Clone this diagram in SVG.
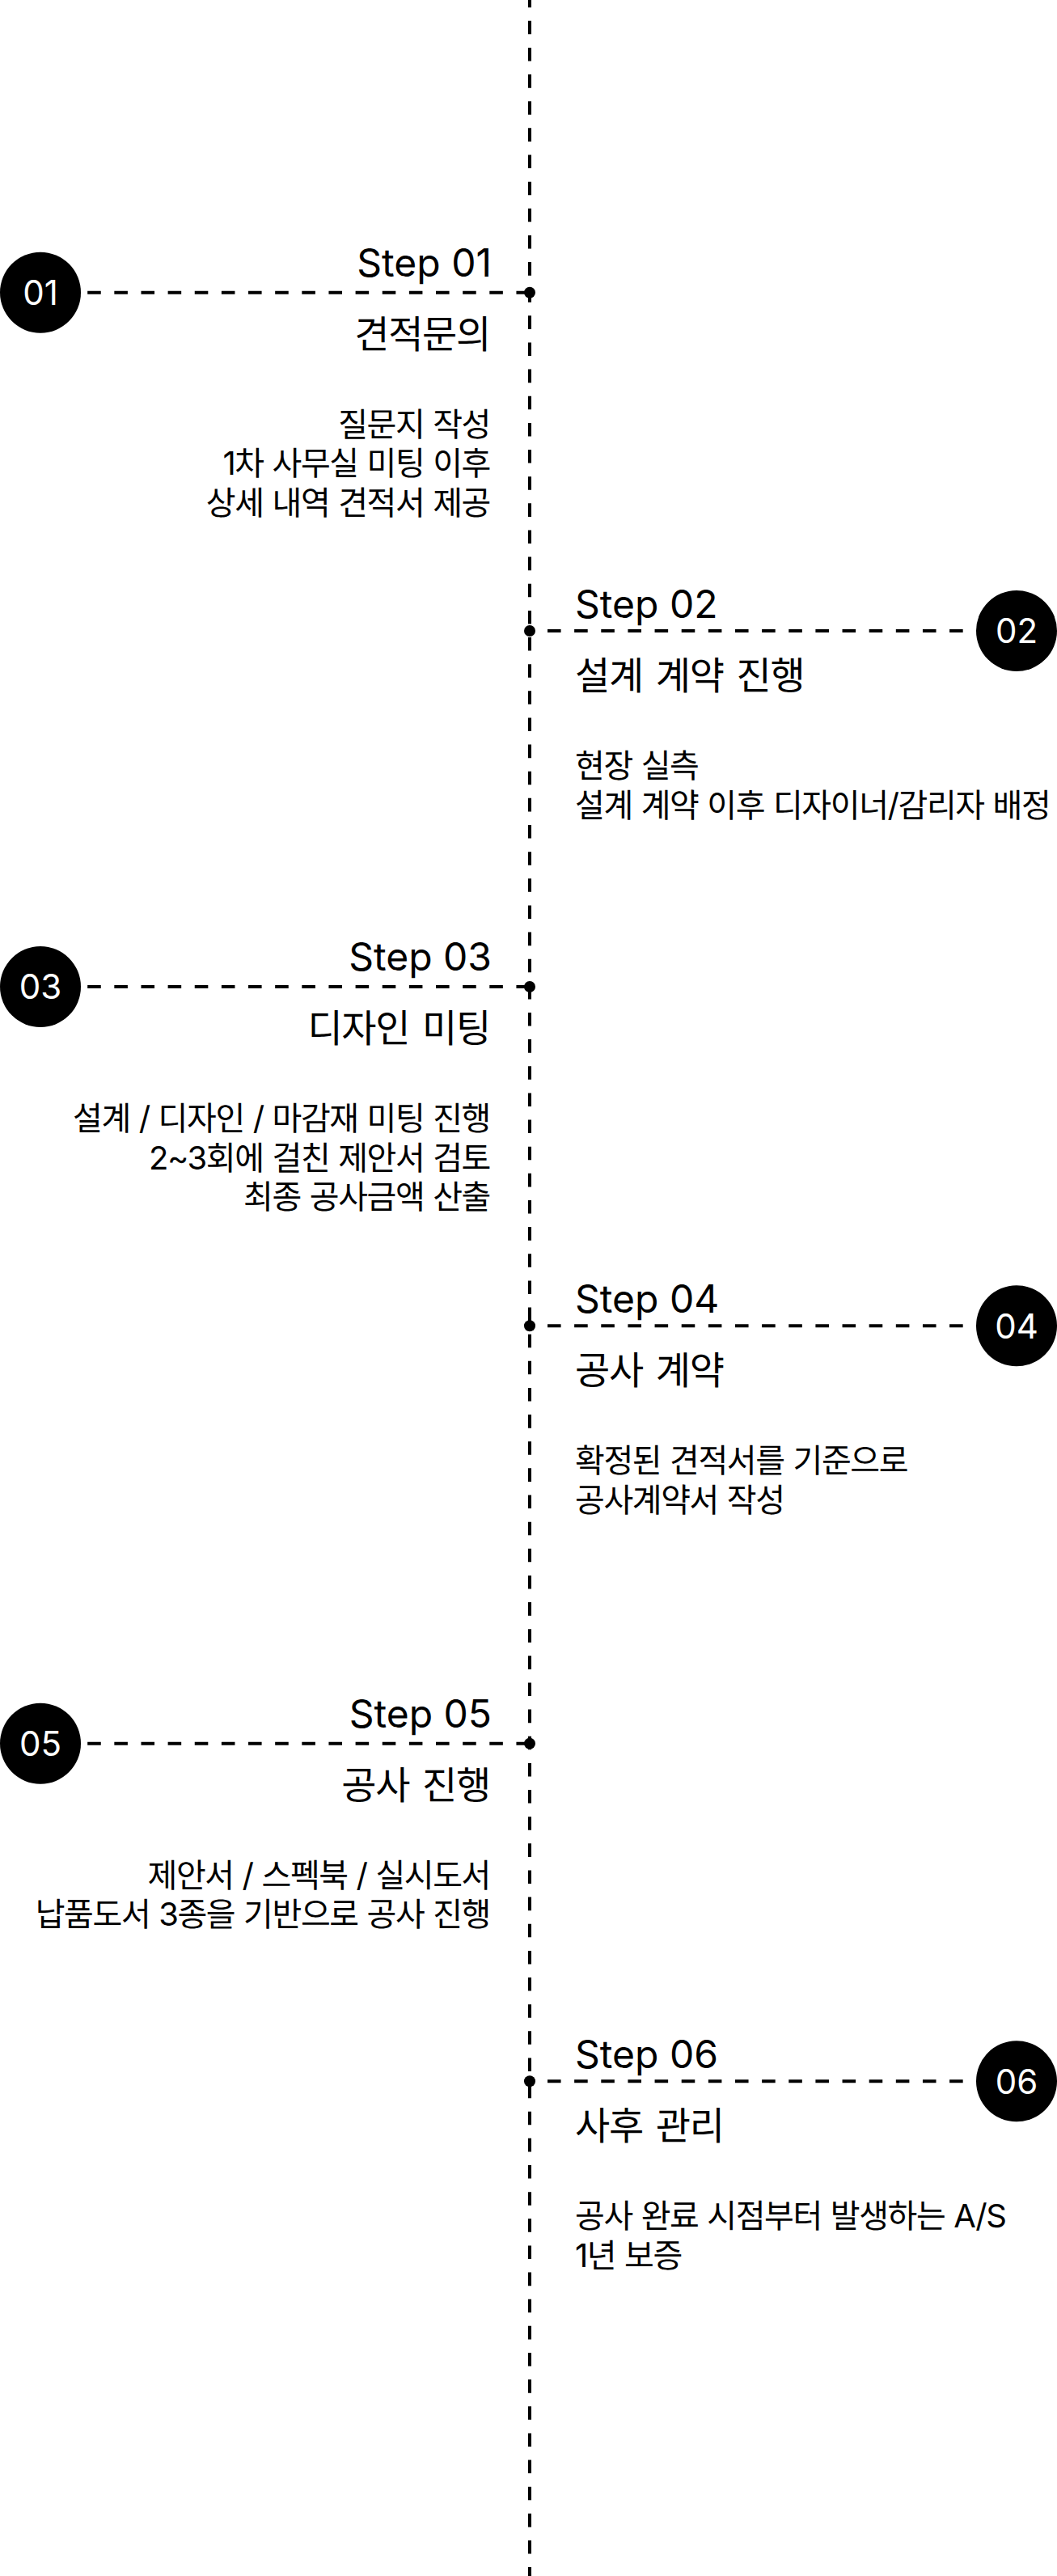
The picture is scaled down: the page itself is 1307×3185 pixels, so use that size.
<svg xmlns="http://www.w3.org/2000/svg" width="1307" height="3185" viewBox="0 0 1307 3185">
  <style>
    text { font-family: Inter, "Noto Sans CJK KR", sans-serif; fill: #000; }
    .step { font-size: 48px; font-weight: 400; }
    .title { font-size: 47px; font-weight: 400; letter-spacing: -1.3px; word-spacing: 4px; }
    .body { font-size: 40px; font-weight: 400; letter-spacing: -1.4px; word-spacing: 1px; }
    .num { font-size: 42px; font-weight: 400; fill: #fff; text-anchor: middle; }
    .l text { text-anchor: end; }
    .dash { fill: none; stroke: #000; stroke-width: 4; stroke-dasharray: 16.57 16.57; }
    .badge { fill: #000; }
    .dot { fill: #000; }
  </style>

  <g id="connectors">
    <path class="dash" style="stroke-dashoffset:7.34" d="M655 0 V3185"/>
    <path class="dash" d="M655 361.7 H100"/>
    <path class="dash" d="M677 780 H1207"/>
    <path class="dash" d="M655 1220 H100"/>
    <path class="dash" d="M677 1639.3 H1207"/>
    <path class="dash" d="M655 2155.7 H100"/>
    <path class="dash" d="M677 2573.3 H1207"/>
    <circle class="dot" cx="655" cy="361.7" r="7"/>
    <circle class="dot" cx="655" cy="780" r="7"/>
    <circle class="dot" cx="655" cy="1220" r="7"/>
    <circle class="dot" cx="655" cy="1639.3" r="7"/>
    <circle class="dot" cx="655" cy="2155.7" r="7"/>
    <circle class="dot" cx="655" cy="2573.3" r="7"/>
  </g>

  <g id="step01" class="l">
    <circle class="badge" cx="50" cy="361.7" r="50"/>
    <text class="num" x="50" y="377" style="text-anchor:middle">01</text>
    <text class="step" x="608" y="341.7">Step 01</text>
    <text class="title" x="606" y="429.7">견적문의</text>
    <text class="body" x="606" y="538.7">질문지 작성</text>
    <text class="body" x="606" y="587.2">1차 사무실 미팅 이후</text>
    <text class="body" x="606" y="635.7">상세 내역 견적서 제공</text>
  </g>

  <g id="step02">
    <circle class="badge" cx="1257" cy="780" r="50"/>
    <text class="num" x="1257" y="795.3">02</text>
    <text class="step" x="711" y="764">Step 02</text>
    <text class="title" x="711" y="852">설계 계약 진행</text>
    <text class="body" x="711" y="961">현장 실측</text>
    <text class="body" x="711" y="1009.5">설계 계약 이후 디자이너/감리자 배정</text>
  </g>

  <g id="step03" class="l">
    <circle class="badge" cx="50" cy="1220" r="50"/>
    <text class="num" x="50" y="1235.3" style="text-anchor:middle">03</text>
    <text class="step" x="608" y="1200">Step 03</text>
    <text class="title" x="606" y="1288">디자인 미팅</text>
    <text class="body" x="606" y="1397">설계 / 디자인 / 마감재 미팅 진행</text>
    <text class="body" x="606" y="1445.5">2~3회에 걸친 제안서 검토</text>
    <text class="body" x="606" y="1494">최종 공사금액 산출</text>
  </g>

  <g id="step04">
    <circle class="badge" cx="1257" cy="1639.3" r="50"/>
    <text class="num" x="1257" y="1654.6">04</text>
    <text class="step" x="711" y="1623.3">Step 04</text>
    <text class="title" x="711" y="1711.3">공사 계약</text>
    <text class="body" x="711" y="1820.3">확정된 견적서를 기준으로</text>
    <text class="body" x="711" y="1868.8">공사계약서 작성</text>
  </g>

  <g id="step05" class="l">
    <circle class="badge" cx="50" cy="2155.7" r="50"/>
    <text class="num" x="50" y="2171" style="text-anchor:middle">05</text>
    <text class="step" x="608" y="2135.7">Step 05</text>
    <text class="title" x="606" y="2223.7">공사 진행</text>
    <text class="body" x="606" y="2332.7">제안서 / 스펙북 / 실시도서</text>
    <text class="body" x="606" y="2381.2">납품도서 3종을 기반으로 공사 진행</text>
  </g>

  <g id="step06">
    <circle class="badge" cx="1257" cy="2573.3" r="50"/>
    <text class="num" x="1257" y="2588.6">06</text>
    <text class="step" x="711" y="2557.3">Step 06</text>
    <text class="title" x="711" y="2645.3">사후 관리</text>
    <text class="body" x="711" y="2754.3">공사 완료 시점부터 발생하는 A/S</text>
    <text class="body" x="711" y="2802.8">1년 보증</text>
  </g>
</svg>
